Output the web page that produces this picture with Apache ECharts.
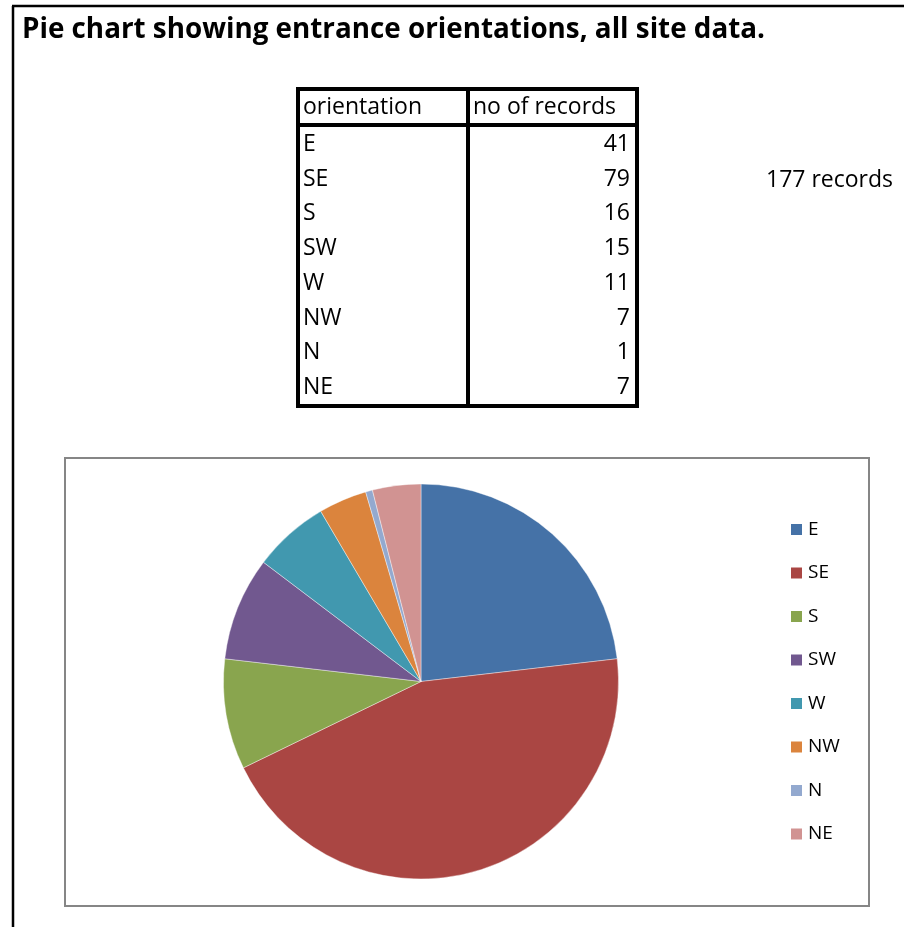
<!DOCTYPE html>
<html>
<head>
<meta charset="utf-8">
<title>Entrance orientations</title>
<script src="https://cdn.jsdelivr.net/npm/echarts@6/dist/echarts.min.js"></script>
<style>
  html, body { margin: 0; padding: 0; background: #fff; }
  #chart { width: 904px; height: 927px; }
</style>
</head>
<body>
<div id="chart"></div>
<script>
  // data
  var titleText = "Pie chart showing entrance orientations, all site data.";
  var headers = ["orientation", "no of records"];
  var orientations = ["E", "SE", "S", "SW", "W", "NW", "N", "NE"];
  var records = [41, 79, 16, 15, 11, 7, 1, 7];
  var totalText = "177 records";
  var colors = ["#4572A7", "#AA4643", "#89A54E", "#71588F", "#4198AF", "#DB843D", "#93A9CF", "#D19392"];

  var font = "'Open Sans', 'Liberation Sans', sans-serif";
  var chart = echarts.init(document.getElementById("chart"));

  // table geometry
  var tbl = { left: 298, right: 637, top: 89, bottom: 406, mid: 468, head: 125 };
  var rowY0 = 144.5, rowH = 34.7;

  function txt(s, x, y, align, size, weight) {
    return {
      type: "text",
      style: {
        text: s, x: x, y: y,
        align: align, textAlign: align,
        verticalAlign: "middle", textVerticalAlign: "middle",
        fill: "#000", fontFamily: font, fontSize: size, fontWeight: weight || "normal"
      }
    };
  }
  function line(x1, y1, x2, y2, w, c) {
    return { type: "line", shape: { x1: x1, y1: y1, x2: x2, y2: y2 }, style: { stroke: c || "#000", lineWidth: w } };
  }

  var graphics = [
    line(13, 6, 13, 927, 2.5),
    line(12, 6, 904, 6, 2.5),
    txt(titleText, 22, 30, "left", 27.8, "bold"),
    { type: "rect", shape: { x: tbl.left, y: tbl.top, width: tbl.right - tbl.left, height: tbl.bottom - tbl.top },
      style: { fill: "none", stroke: "#000", lineWidth: 4 } },
    line(tbl.mid, tbl.top, tbl.mid, tbl.bottom, 4),
    line(tbl.left, tbl.head, tbl.right, tbl.head, 4),
    txt(headers[0], 303, 107, "left", 23),
    txt(headers[1], 473, 107, "left", 23),
    txt(totalText, 766, 180, "left", 23),
    { type: "rect", shape: { x: 65, y: 458, width: 804, height: 448 },
      style: { fill: "none", stroke: "#868686", lineWidth: 2 } }
  ];
  orientations.forEach(function (o, i) {
    var y = rowY0 + rowH * i;
    graphics.push(txt(o, 303, y, "left", 23));
    graphics.push(txt(String(records[i]), 630, y, "right", 23));
  });

  chart.setOption({
    animation: false,
    color: colors,
    graphic: graphics,
    legend: {
      orient: "vertical",
      left: 789,
      top: 520,
      padding: 0,
      itemWidth: 13,
      itemHeight: 13,
      itemGap: 24.5,
      itemTextGap: 6,
      icon: "rect",
      selectedMode: false,
      textStyle: { fontFamily: font, fontSize: 19, color: "#000", lineHeight: 18 },
      data: orientations
    },
    series: [
      {
        type: "pie",
        center: [421, 681.5],
        radius: 197.5,
        startAngle: 90,
        clockwise: true,
        label: { show: false },
        labelLine: { show: false },
        itemStyle: { borderColor: "#fff", borderWidth: 0.4 },
        emphasis: { disabled: true },
        data: orientations.map(function (o, i) { return { name: o, value: records[i] }; })
      }
    ]
  });
</script>
</body>
</html>
